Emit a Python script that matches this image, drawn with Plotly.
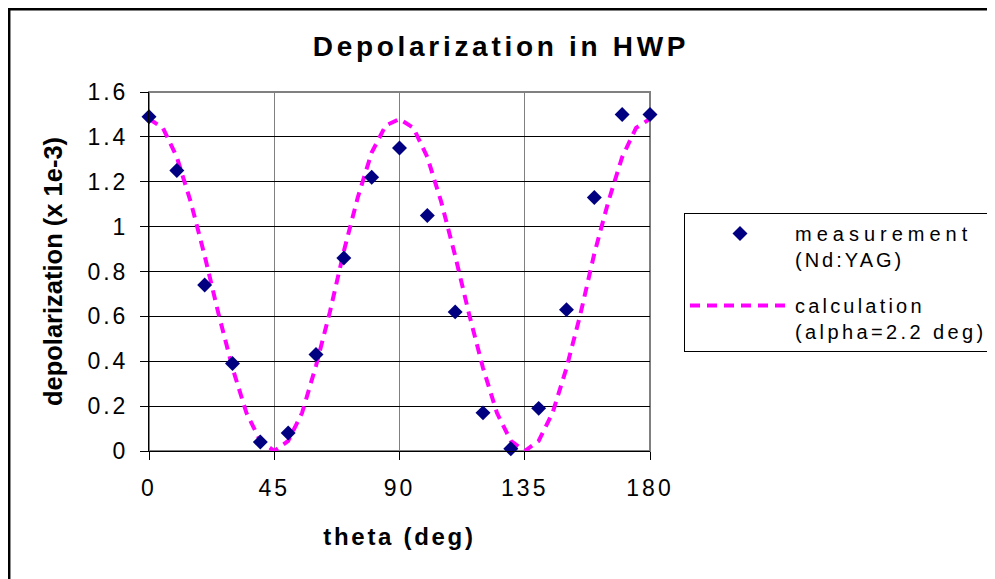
import plotly.graph_objects as go

# ---- data ----
theta_meas = [0, 10, 20, 30, 40, 50, 60, 70, 80, 90, 100, 110, 120, 130, 140, 150, 160, 170, 180]
depol_meas = [1.49, 1.25, 0.74, 0.39, 0.04, 0.08, 0.43, 0.86, 1.22, 1.35, 1.05, 0.62, 0.17, 0.01,
              0.19, 0.63, 1.13, 1.50, 1.50]

theta_calc = [0, 5, 10, 15, 20, 25, 30, 35, 40, 45, 50, 55, 60, 65, 70, 75, 80, 85, 90,
              95, 100, 105, 110, 115, 120, 125, 130, 135, 140, 145, 150, 155, 160, 165, 170, 175, 180]
depol_calc = [1.48, 1.44, 1.31, 1.11, 0.87, 0.61, 0.37, 0.17, 0.045, 0.0, 0.045, 0.17, 0.38, 0.62,
              0.89, 1.13, 1.33, 1.45, 1.48, 1.44, 1.31, 1.11, 0.87, 0.61, 0.37, 0.17, 0.045, 0.0,
              0.045, 0.17, 0.37, 0.61, 0.88, 1.11, 1.31, 1.44, 1.48]

x_tickvals = [0, 45, 90, 135, 180]
x_ticklabels = ["0", "45", "90", "135", "180"]
y_tickvals = [0, 0.2, 0.4, 0.6, 0.8, 1.0, 1.2, 1.4, 1.6]
y_ticklabels = ["0", "0.2", "0.4", "0.6", "0.8", "1", "1.2", "1.4", "1.6"]

title_text = "Depolarization in HWP"
x_title = "theta (deg)"
y_title = "depolarization (x 1e-3)"
meas_name = ["measurement", "(Nd:YAG)"]
calc_name = ["calculation", "(alpha=2.2 deg)"]


def spaced(s, px):
    return f'<span style="letter-spacing:{px}px">{s}</span>'


FONT = "Liberation Sans, Arial, sans-serif"

# page body has an 8px margin, so the figure is laid out shifted by (8, 8)
OFF = 8
PLOT_L, PLOT_R, PLOT_T, PLOT_B = 149, 650, 92, 451   # window pixels


def px_x(px):
    return (px - PLOT_L) / (PLOT_R - PLOT_L)


def px_y(py):
    return (PLOT_B - py) / (PLOT_B - PLOT_T)


fig = go.Figure()

fig.add_trace(go.Scatter(
    x=theta_calc, y=depol_calc, mode="lines",
    name=spaced(calc_name[0], 3.2) + "<br>" + spaced(calc_name[1], 3.4),
    line=dict(color="#FF00FF", width=4, dash="10px,7px"),
    legendrank=2, legendgroup="calc", cliponaxis=False,
))
fig.add_trace(go.Scatter(
    x=theta_meas, y=depol_meas, mode="markers",
    name=spaced(meas_name[0], 5) + "<br>" + spaced(meas_name[1], 3),
    marker=dict(symbol="diamond", size=11.5, color="#000080", line=dict(width=0)),
    legendrank=1, legendgroup="meas", cliponaxis=False,
))

W, H = 995, 579
ml = PLOT_L - OFF
mt = PLOT_T - OFF
mr = W - ml - (PLOT_R - PLOT_L)
mb = H - mt - (PLOT_B - PLOT_T)

fig.update_layout(
    width=W, height=H,
    margin=dict(l=ml, r=mr, t=mt, b=mb, autoexpand=False),
    paper_bgcolor="white", plot_bgcolor="white",
    font=dict(family=FONT, color="black"),
    title=dict(text=spaced(title_text, 3.7), x=(501 - OFF) / W, xanchor="center",
               y=1 - (47 - OFF - 1) / H, yanchor="middle",
               font=dict(size=28, weight="bold", family=FONT, color="black")),
    showlegend=True,
    legend=dict(x=px_x(684), xanchor="left", y=px_y(213), yanchor="top",
                bordercolor="black", borderwidth=1, bgcolor="white",
                font=dict(size=20, family=FONT, color="black"),
                itemwidth=100, traceorder="grouped", tracegroupgap=17,
                valign="top"),
    xaxis=dict(range=[0, 180], tickmode="array", tickvals=x_tickvals,
               ticktext=[spaced(t, 3) for t in x_ticklabels],
               ticks="outside", ticklen=8, tickcolor="black", tickwidth=1,
               ticklabelstandoff=8,
               showgrid=True, gridcolor="#808080", gridwidth=1, zeroline=False,
               showline=True, linecolor="black", linewidth=1,
               tickfont=dict(size=23, family=FONT, color="black"),
               title=dict(text=spaced(x_title, 2.7), standoff=28,
                          font=dict(size=24, weight="bold", family=FONT, color="black"))),
    yaxis=dict(range=[0, 1.6], tickmode="array", tickvals=y_tickvals,
               ticktext=[spaced(t, 3) for t in y_ticklabels],
               ticks="outside", ticklen=8, tickcolor="black", tickwidth=1,
               ticklabelstandoff=7,
               showgrid=True, gridcolor="black", gridwidth=1, zeroline=False,
               showline=True, linecolor="black", linewidth=1,
               tickfont=dict(size=23, family=FONT, color="black"),
               title=dict(text=y_title, standoff=17,
                          font=dict(size=25.5, weight="bold", family=FONT, color="black"))),
    shapes=[
        dict(type="rect", xref="x domain", yref="y domain", x0=0, x1=1, y0=0, y1=1,
             line=dict(color="#808080", width=2), layer="below"),
        dict(type="rect", xref="paper", yref="paper",
             x0=px_x(OFF + 1.2), x1=2.0, y0=-1.0, y1=px_y(OFF + 1.2),
             line=dict(color="black", width=2.5), layer="below"),
    ],
)

fig.write_html("out.html")
